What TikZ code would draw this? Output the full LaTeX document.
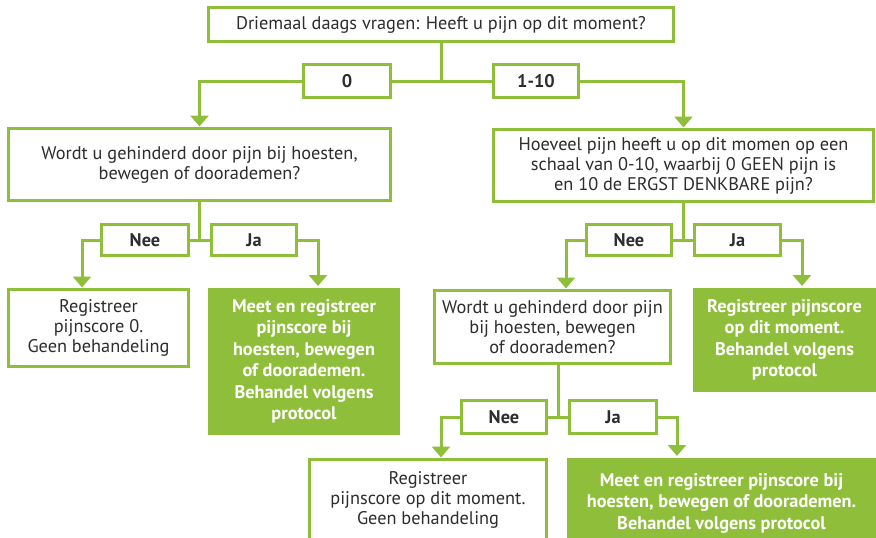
\documentclass[tikz,border=0pt]{standalone}
\usepackage{fontspec}
\setmainfont{PT Sans}
\usetikzlibrary{arrows.meta, calc, positioning}
\definecolor{pijngroen}{RGB}{143,191,58}
\definecolor{tekstgrijs}{RGB}{45,45,45}

\begin{document}
\begin{tikzpicture}[x=1pt, y=-1pt,
    vraag/.style={draw=pijngroen, line width=3pt, fill=white, text=tekstgrijs, align=center,
        inner sep=0pt, outer sep=0pt, font=\fontsize{18.3}{20}\selectfont},
    keuze/.style={vraag, font=\fontsize{18.3}{20}\selectfont\bfseries, minimum height=33pt},
    actie/.style={fill=pijngroen, text=white, align=center, inner sep=0pt, outer sep=0pt,
        font=\fontsize{18.3}{21.5}\selectfont\bfseries},
    lijn/.style={draw=pijngroen, line width=3pt},
    pijl/.style={lijn, shorten >=2pt, -{Triangle[width=18pt,length=11pt]}}
]
\path[use as bounding box, clip] (0,0) rectangle (876,538);

% Startvraag
\node[vraag, minimum width=465pt, minimum height=34pt] (start) at (441,24.5)
    {Driemaal daags vragen: Heeft u pijn op dit moment?};
\node[keuze, minimum width=87pt] (nul) at (347,81) {0};
\node[keuze, minimum width=85pt] (score) at (536,81) {1-10};

% Tweede niveau
\node[vraag, minimum width=382pt, minimum height=72pt] (vraag1) at (199.5,164.5)
    {Wordt u gehinderd door pijn bij hoesten,\\ bewegen of doorademen?};
\node[vraag, minimum width=380pt, minimum height=72pt] (vraag2) at (683.5,165.5)
    {Hoeveel pijn heeft u op dit momen op een\\ schaal van 0-10, waarbij 0 GEEN pijn is\\ en 10 de ERGST DENKBARE pijn?};

\node[keuze, minimum width=87pt, minimum height=31pt] (nee1) at (145,240) {Nee};
\node[keuze, minimum width=85pt, minimum height=31pt] (ja1) at (254,240) {Ja};
\node[keuze, minimum width=85pt, minimum height=31pt] (nee2) at (629,240) {Nee};
\node[keuze, minimum width=86pt, minimum height=31pt] (ja2) at (737.5,240) {Ja};

% Derde niveau
\node[vraag, minimum width=180pt, minimum height=77pt] (geen1) at (98.5,328)
    {Registreer\\ pijnscore 0.\\ Geen behandeling};
\node[actie, minimum width=192pt, minimum height=147pt] (meet1) at (304,361.5)
    {Meet en registreer\\ pijnscore bij\\ hoesten, bewegen\\ of doorademen.\\ Behandel volgens\\ protocol};
\node[vraag, minimum width=236pt, minimum height=73pt] (vraag3) at (552.5,327)
    {Wordt u gehinderd door pijn\\ bij hoesten, bewegen\\ of doorademen?};
\node[actie, minimum width=183pt, minimum height=104pt] (reg1) at (784.5,340)
    {Registreer pijnscore\\ op dit moment.\\ Behandel volgens\\ protocol};

\node[keuze, minimum width=85pt] (nee3) at (504,417) {Nee};
\node[keuze, minimum width=87pt] (ja3) at (613,417) {Ja};

% Laatste niveau
\node[vraag, minimum width=237pt, minimum height=81pt] (geen2) at (428,500)
    {Registreer\\ pijnscore op dit moment.\\ Geen behandeling};
\node[actie, minimum width=309pt, minimum height=90pt] (meet2) at (721.5,503)
    {Meet en registreer pijnscore bij\\ hoesten, bewegen of doorademen.\\ Behandel volgens protocol};

% Verbindingen
\draw[lijn] (start.south) -- (start.south |- nul.east);
\draw[lijn] (nul.east) -- (score.west);
\draw[pijl] (nul.west) -| (vraag1.north);
\draw[pijl] (score.east) -| (vraag2.north);

\draw[lijn] (vraag1.south) -- (vraag1.south |- nee1.east);
\draw[lijn] (nee1.east) -- (ja1.west);
\draw[pijl] (nee1.west) -| ([xshift=-16.5pt]geen1.north);
\draw[pijl] (ja1.east) -| ([xshift=14pt]meet1.north);

\draw[lijn] (vraag2.south) -- (vraag2.south |- nee2.east);
\draw[lijn] (nee2.east) -- (ja2.west);
\draw[pijl] (nee2.west) -| ([xshift=13.5pt]vraag3.north);
\draw[pijl] (ja2.east) -| ([xshift=17.5pt]reg1.north);

\coordinate (m3) at ($(nee3.east)!.5!(ja3.west)$);
\draw[lijn] (m3 |- vraag3.south) -- (m3);
\draw[lijn] (nee3.east) -- (ja3.west);
\draw[pijl] (nee3.west) -| ([xshift=13pt]geen2.north);
\draw[pijl] (ja3.east) -| ([xshift=-44.5pt]meet2.north);

\end{tikzpicture}
\end{document}
